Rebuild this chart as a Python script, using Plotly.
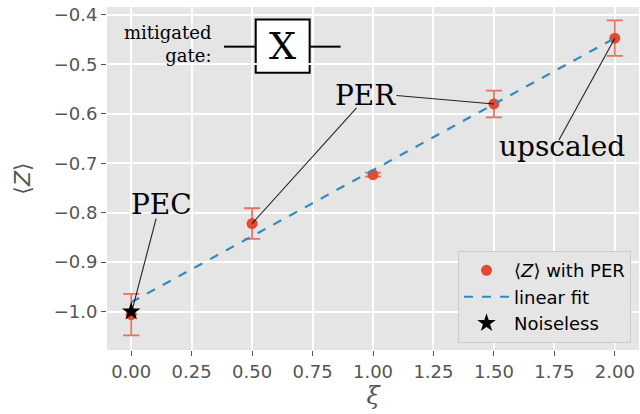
import plotly.graph_objects as go

# data
xi = [0.0, 0.5, 1.0, 1.5, 2.0]
z_per = [-1.006, -0.822, -0.723, -0.580, -0.447]
z_err = [0.042, 0.031, 0.004, 0.027, 0.036]
fit_x = [0.0, 2.0]
fit_y = [-0.981, -0.447]
noiseless_x = [0.0]
noiseless_y = [-1.0]
x_ticks = [0.0, 0.25, 0.5, 0.75, 1.0, 1.25, 1.5, 1.75, 2.0]
y_ticks = [-1.0, -0.9, -0.8, -0.7, -0.6, -0.5, -0.4]

RED = "#E24A33"
BLUE = "#348ABD"
GRAY = "#555555"

fig = go.Figure()
fig.add_trace(go.Scatter(
    x=xi, y=z_per, mode="markers", name="⟨<i>Z</i>⟩ with PER",
    marker=dict(color=RED, size=11),
    error_y=dict(type="data", array=z_err, color="rgba(226,74,51,0.75)", thickness=1.8, width=8),
))
fig.add_trace(go.Scatter(
    x=fit_x, y=fit_y, mode="lines", name="linear fit",
    line=dict(color=BLUE, width=2.2, dash="dash"),
))
fig.add_trace(go.Scatter(
    x=noiseless_x, y=noiseless_y, mode="markers", name="Noiseless",
    marker=dict(color="black", size=14, symbol="star"),
))

serif = "DejaVu Serif"
# annotation texts
fig.add_annotation(x=0.124, y=-0.784, xref="x", yref="y", text="PEC", showarrow=False,
                   font=dict(family=serif, size=28, color="black"))
fig.add_annotation(x=0.969, y=-0.562, xref="x", yref="y", text="PER", showarrow=False,
                   font=dict(family=serif, size=28, color="black"))
fig.add_annotation(x=1.781, y=-0.667, xref="x", yref="y", text="upscaled", showarrow=False,
                   font=dict(family=serif, size=28, color="black"))
fig.add_annotation(x=0.340, y=-0.458, xref="x", yref="y", text="mitigated<br>gate:", showarrow=False,
                   xanchor="right", align="right",
                   font=dict(family=serif, size=18, color="black"))
fig.add_annotation(x=0.627, y=-0.463, xref="x", yref="y", text="X", showarrow=False,
                   font=dict(family=serif, size=38, color="black"))

# connector lines
line_style = dict(color="rgba(0,0,0,0.85)", width=1.1)
for (x0, y0, x1, y1) in [(0.103, -0.812, 0.004, -0.997),
                         (0.932, -0.588, 0.5, -0.822),
                         (1.097, -0.563, 1.5, -0.58),
                         (1.769, -0.653, 2.0, -0.447)]:
    fig.add_shape(type="line", x0=x0, y0=y0, x1=x1, y1=y1, xref="x", yref="y", line=line_style)

# gate drawing
fig.add_shape(type="line", x0=0.384, x1=0.515, y0=-0.4642, y1=-0.4642, xref="x", yref="y",
              line=dict(color="black", width=2))
fig.add_shape(type="line", x0=0.738, x1=0.866, y0=-0.4642, y1=-0.4642, xref="x", yref="y",
              line=dict(color="black", width=2))
fig.add_shape(type="rect", x0=0.515, x1=0.738, y0=-0.5168, y1=-0.4095, xref="x", yref="y",
              line=dict(color="black", width=2), fillcolor="white", layer="below")

axis_common = dict(
    showgrid=True, gridcolor="white", gridwidth=1.5, zeroline=False,
    ticks="outside", ticklen=5, tickwidth=1.2, tickcolor=GRAY,
    tickfont=dict(family="DejaVu Sans", size=18, color=GRAY),
    showline=False,
)
fig.update_layout(
    width=640, height=414,
    margin=dict(l=107, r=1, t=7, b=64),
    paper_bgcolor="white", plot_bgcolor="#E5E5E5",
    showlegend=True,
    legend=dict(x=0.985, y=0.02, xanchor="right", yanchor="bottom",
                bgcolor="#E5E5E5", bordercolor="#CCCCCC", borderwidth=1,
                font=dict(family="DejaVu Sans", size=18, color="black"),
                itemwidth=45, tracegroupgap=0),
    xaxis=dict(range=[-0.1, 2.1], tickvals=x_ticks, tickformat=".2f",
               title=dict(text="<i>ξ</i>", font=dict(family="DejaVu Serif", size=24, color=GRAY), standoff=4),
               **axis_common),
    yaxis=dict(range=[-1.0776, -0.384], tickvals=y_ticks, tickformat=".1f",
               title=dict(text="⟨<i>Z</i>⟩", font=dict(family="DejaVu Sans", size=22, color=GRAY), standoff=16),
               **axis_common),
)
fig.write_html("out.html")
